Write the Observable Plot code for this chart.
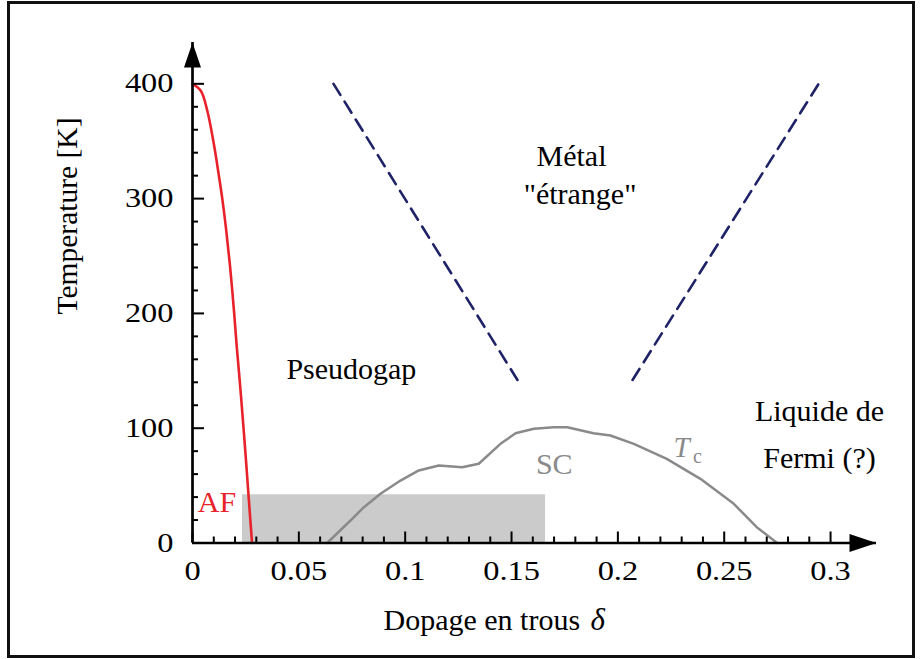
<!DOCTYPE html>
<html><head><meta charset="utf-8">
<script src="https://cdn.jsdelivr.net/npm/d3@7"></script>
<script src="https://cdn.jsdelivr.net/npm/@observablehq/plot@0.6"></script>
<style>
html,body{margin:0;padding:0;background:#fff;}
#wrap{position:relative;width:921px;height:659px;overflow:hidden;}
#frame{position:absolute;left:7px;top:1px;width:908px;height:657px;box-sizing:border-box;border:3px solid #111;pointer-events:none;}
</style></head><body>
<div id="wrap"><div id="chart"></div><div id="frame"></div></div>
<script>
// Antiferromagnetic (AF) Néel line
const afDoping = [0, 0.0039, 0.0069, 0.0100, 0.0124, 0.0140, 0.0157, 0.0177, 0.0196, 0.0208, 0.0218, 0.0228, 0.0240, 0.0255, 0.0266, 0.0280];
const afTemp   = [400, 394, 377, 348, 320, 300, 275, 240, 200, 171, 150, 128, 100, 63, 35, 0];
// Superconducting dome Tc
const tcDoping = [0.0633, 0.0743, 0.0806, 0.0884, 0.0978, 0.1064, 0.1158, 0.1268, 0.1346, 0.1448, 0.1519, 0.1605, 0.1699, 0.1762, 0.1885, 0.1965, 0.2075, 0.2230, 0.2388, 0.2545, 0.2653, 0.2749];
const tcTemp   = [0, 19.6, 31.2, 42.9, 54.4, 63.2, 67.5, 66.0, 69.0, 86.4, 95.6, 99.5, 100.9, 100.9, 95.6, 93.6, 86.4, 73.3, 55.9, 34.1, 13.8, 0];
// Pseudogap and Fermi-liquid crossover lines (dashed)
const pgDoping = [0.0663, 0.1528];
const pgTemp   = [400, 142];
const flDoping = [0.2069, 0.2944];
const flTemp   = [142, 400];
// Shaded region
const boxDoping = [0.0235, 0.166];
const boxTemp   = [0, 42];
// Ticks
const xMajor = [0, 0.05, 0.1, 0.15, 0.2, 0.25, 0.3];
const xMajorLabels = ["0", "0.05", "0.1", "0.15", "0.2", "0.25", "0.3"];
const xMinor = [0.01, 0.02, 0.03, 0.04, 0.06, 0.07, 0.08, 0.09, 0.11, 0.12, 0.13, 0.14, 0.16, 0.17, 0.18, 0.19, 0.21, 0.22, 0.23, 0.24, 0.26, 0.27, 0.28, 0.29];
const yMajor = [0, 100, 200, 300, 400];
const yMajorLabels = ["0", "100", "200", "300", "400"];
const yMinor = [20, 40, 60, 80, 120, 140, 160, 180, 220, 240, 260, 280, 320, 340, 360, 380];
// Region labels
const regionText = ["Métal", "\"étrange\"", "Pseudogap", "Liquide de", "Fermi (?)"];
const regionX    = [0.1782, 0.1822, 0.0747, 0.2948, 0.2948];
const regionT    = [328.8, 295.7, 143.3, 106.7, 64.9];
const scText = ["SC"], scX = [0.1701], scT = [60.1];
const afText = ["AF"], afX = [0.0115], afT = [26.6];
const tcMain = ["T"], tcMainX = [0.2299], tcMainT = [74.5];
const tcSub = ["c"], tcSubX = [0.2374], tcSubT = [69.3];
const yTitle = ["Temperature [K]"];
const xTitle = ["Dopage en trous"];
const xTitleSym = ["δ"];

const af = afDoping.map((x, i) => ({x, t: afTemp[i]}));
const tc = tcDoping.map((x, i) => ({x, t: tcTemp[i]}));
const pg = pgDoping.map((x, i) => ({x, t: pgTemp[i]}));
const fl = flDoping.map((x, i) => ({x, t: flTemp[i]}));
const box = [{x1: boxDoping[0], x2: boxDoping[1], y1: boxTemp[0], y2: boxTemp[1]}];
const regions = regionText.map((s, i) => ({s, x: regionX[i], t: regionT[i]}));
const mk = (txt, xs, ts) => txt.map((s, i) => ({s, x: xs[i], t: ts[i]}));

const FONT = "'Liberation Serif', 'Times New Roman', Times, serif";
const RED = "#e8222a", GRAY = "#8a8a8a", NAVY = "#1f2266";
const arrowUp = {draw(ctx) { ctx.moveTo(0, 0); ctx.lineTo(-8.5, 25); ctx.lineTo(8.5, 25); ctx.closePath(); }};
const arrowRight = {draw(ctx) { ctx.moveTo(0, 0); ctx.lineTo(-27, -9); ctx.lineTo(-27, 9); ctx.closePath(); }};

const svg = Plot.plot({
  width: 921, height: 659,
  marginLeft: 192, marginRight: 45, marginTop: 42, marginBottom: 116.5,
  style: {fontFamily: FONT, background: "transparent", color: "black"},
  x: {domain: [0, 0.3216]},
  y: {domain: [0, 436]},
  marks: [
    Plot.rect(box, {x1: "x1", x2: "x2", y1: "y1", y2: "y2", fill: "#cbcbcb"}),
    Plot.line(tc, {x: "x", y: "t", stroke: GRAY, strokeWidth: 2.5}),
    Plot.line(pg, {x: "x", y: "t", stroke: NAVY, strokeWidth: 2.6, strokeDasharray: "13,8"}),
    Plot.line(fl, {x: "x", y: "t", stroke: NAVY, strokeWidth: 2.6, strokeDasharray: "13,8"}),
    Plot.line(af, {x: "x", y: "t", stroke: RED, strokeWidth: 2.6, curve: "catmull-rom"}),
    Plot.ruleX([0], {stroke: "black", strokeWidth: 2.7}),
    Plot.ruleY([0], {stroke: "black", strokeWidth: 2.7}),
    Plot.dot([0], {frameAnchor: "top-left", symbol: arrowUp, fill: "black", stroke: null, r: 10}),
    Plot.dot([0], {frameAnchor: "bottom-right", symbol: arrowRight, fill: "black", stroke: null, r: 10}),
    Plot.axisY({ticks: yMajor, tickSize: -12, tickPadding: 31, strokeWidth: 2, fontSize: 27, label: null,
      tickFormat: d => yMajorLabels[yMajor.indexOf(d)]}),
    Plot.axisY({ticks: yMinor, tickSize: -6, strokeWidth: 2, label: null, tickFormat: () => ""}),
    Plot.axisX({ticks: xMajor, tickSize: -11, tickPadding: 29.3, strokeWidth: 2, fontSize: 27, label: null,
      tickFormat: d => xMajorLabels[xMajor.indexOf(d)]}),
    Plot.axisX({ticks: xMinor, tickSize: -6, strokeWidth: 2, label: null, tickFormat: () => ""}),
    Plot.text(regions, {x: "x", y: "t", text: "s", fontSize: 30, lineAnchor: "bottom", textAnchor: "middle", fill: "black"}),
    Plot.text(mk(scText, scX, scT), {x: "x", y: "t", text: "s", fontSize: 30, lineAnchor: "bottom", fill: GRAY}),
    Plot.text(mk(afText, afX, afT), {x: "x", y: "t", text: "s", fontSize: 30, lineAnchor: "bottom", fill: RED}),
    Plot.text(mk(tcMain, tcMainX, tcMainT), {x: "x", y: "t", text: "s", fontSize: 29, fontStyle: "italic", lineAnchor: "bottom", fill: GRAY}),
    Plot.text(mk(tcSub, tcSubX, tcSubT), {x: "x", y: "t", text: "s", fontSize: 20, lineAnchor: "bottom", fill: GRAY}),
    Plot.text(yTitle, {text: d => d, frameAnchor: "left", rotate: -90, dx: -116, dy: 21.75, lineAnchor: "bottom", fontSize: 29.5, fill: "black"}),
    Plot.text(xTitle, {text: d => d, frameAnchor: "bottom-left", dx: 191, dy: 86.5, textAnchor: "start", lineAnchor: "bottom", fontSize: 30, fill: "black"}),
    Plot.text(xTitleSym, {text: d => d, frameAnchor: "bottom-left", dx: 398, dy: 86.5, textAnchor: "start", lineAnchor: "bottom", fontSize: 31, fontStyle: "italic", fill: "black"})
  ]
});

// Tick labels in the reference use a horizontally wider face
svg.querySelectorAll('g[aria-label="x-axis tick label"] text, g[aria-label="y-axis tick label"] text').forEach(t => {
  const tr = t.getAttribute("transform") || "";
  t.setAttribute("transform", tr + " scale(1.2,1)");
});

document.getElementById("chart").appendChild(svg);
</script>
</body></html>
